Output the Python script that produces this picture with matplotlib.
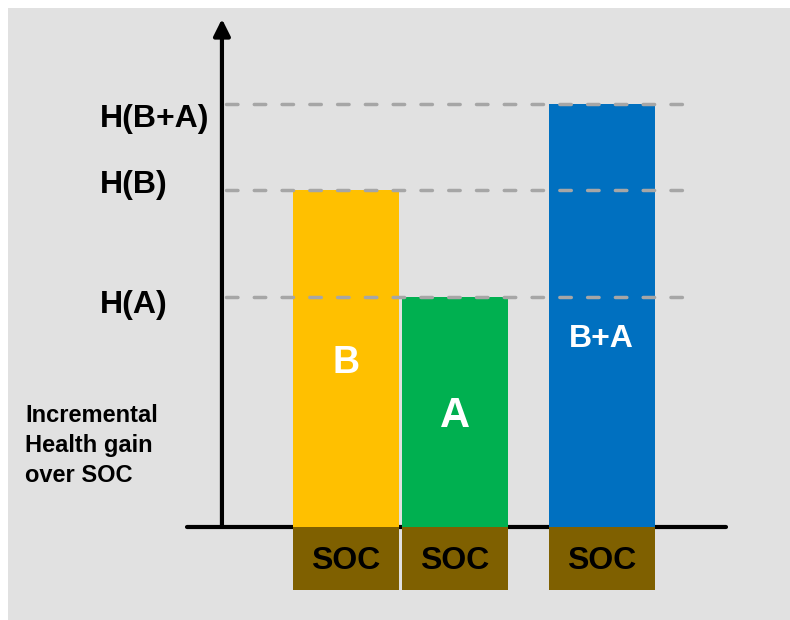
import matplotlib
matplotlib.use("Agg")
import matplotlib.pyplot as plt
from matplotlib.patches import Rectangle
import numpy as np

# incremental health gain over standard of care (arbitrary units)
categories = ["B", "A", "B+A"]
gains = [3.37, 2.30, 4.23]
level_labels = ["H(B)", "H(A)", "H(B+A)"]
base_label = "SOC"
y_title = "Incremental\nHealth gain\nover SOC"

bar_colors = ["#FFC000", "#00B050", "#0070C0"]
soc_color = "#7F6000"
bg_color = "#E1E1E1"
dash_color = "#A6A6A6"
font = ["Liberation Sans", "DejaVu Sans"]

# layout: bar slots, bar label heights and level label offsets
xpos = np.array([0.0, 1.0, 2.345])
width = 0.972
soc_depth = 0.63
inner_y = [1.54, 1.0, 1.80]
inner_size = [27, 30, 23]
level_dy = [-0.033, -0.16, -0.227]

fig = plt.figure(figsize=(7.9, 6.2), dpi=100)
fig.patches.append(Rectangle((8 / 790, 0), 782 / 790, 612 / 620,
                             transform=fig.transFigure, facecolor=bg_color,
                             edgecolor="none", zorder=-10))

ax = fig.add_axes([0, 0, 1, 1])
ax.set_xlim(-3.174, 4.073)
ax.set_ylim(-0.93, 5.27)
ax.axis("off")
ax.patch.set_alpha(0)

# axes: baseline and arrowed vertical axis
yaxis_x = -1.138
ax.plot([-1.459, 3.486], [0, 0], color="black", lw=3, solid_capstyle="round", zorder=1)
ax.annotate("", xy=(yaxis_x, 5.08), xytext=(yaxis_x, 0),
            arrowprops=dict(arrowstyle="-|>", lw=3, color="black",
                            mutation_scale=25, shrinkA=0, shrinkB=0),
            zorder=1)

# gain bars sitting on SOC blocks
ax.bar(xpos, gains, width=width, color=bar_colors, zorder=2)
ax.bar(xpos, [soc_depth] * len(xpos), bottom=-soc_depth, width=width,
       color=soc_color, zorder=2)

for x, c, ty, fs in zip(xpos, categories, inner_y, inner_size):
    ax.text(x, ty, c, color="white", fontsize=fs, fontweight="bold",
            family=font, ha="center", va="baseline", zorder=4)
    ax.text(x, -0.42, base_label, color="black", fontsize=23, fontweight="bold",
            family=font, ha="center", va="baseline", zorder=4)

# dashed reference levels
for g, lab, dy in zip(gains, level_labels, level_dy):
    ax.plot([-1.10, 3.10], [g, g], color=dash_color, lw=2.5,
            linestyle=(0, (3.3, 4.7)), dash_capstyle="round", zorder=3)
    ax.text(-2.257, g + dy, lab, color="black", fontsize=23, fontweight="bold",
            family=font, ha="left", va="baseline")

ax.text(-2.945, 0.45, y_title, color="black", fontsize=17, fontweight="bold",
        family=font, ha="left", va="baseline", linespacing=1.38)

fig.savefig("out.png", dpi=100, facecolor="white")
